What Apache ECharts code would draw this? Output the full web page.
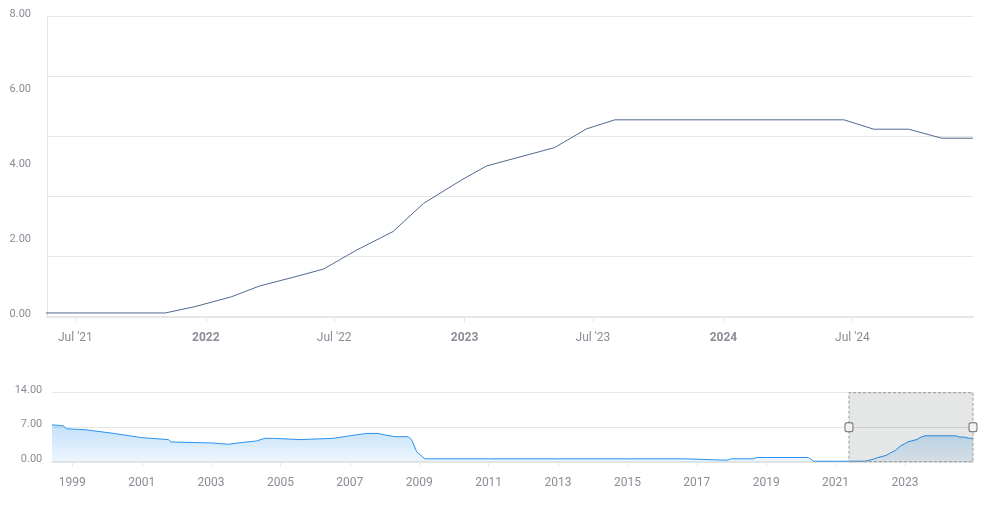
<!DOCTYPE html>
<html><head><meta charset="utf-8">
<script src="https://cdn.jsdelivr.net/npm/echarts@6/dist/echarts.min.js"></script>
<style>html,body{margin:0;padding:0;background:#fff}#c{width:995px;height:507px}</style>
</head><body><div id="c"></div>
<script>
// ---- data ----
const dates = ['1998-06-01','1998-09-27','1998-11-02','1999-05-15','2000-02-20','2001-01-01','2001-10-08','2001-11-06',
  '2003-01-08','2003-07-01','2003-11-01','2004-04-20','2004-07-20','2004-10-20','2005-07-25','2006-07-10',
  '2007-01-05','2007-06-28','2007-10-25','2007-12-20','2008-04-20','2008-09-08','2008-10-15','2008-12-05',
  '2009-03-01','2016-09-05','2016-09-25','2017-11-15','2017-12-25','2018-08-20','2018-09-25','2020-03-20',
  '2020-05-15','2021-11-05','2021-12-17','2022-02-06','2022-03-18','2022-05-04','2022-06-16','2022-08-02',
  '2022-09-22','2022-11-04','2022-12-28','2023-02-01','2023-05-08','2023-06-22','2023-08-01','2024-06-19',
  '2024-07-31','2024-09-18','2024-11-04','2024-12-18'];
const rates = [7.48,7.28,6.68,6.48,5.8,4.88,4.48,4.0,
  3.8,3.54,3.85,4.2,4.74,4.74,4.48,4.74,
  5.28,5.74,5.74,5.48,5.08,5.08,4.34,2.0,
  0.58,0.58,0.3,0.3,0.58,0.58,0.85,0.85,
  0.1,0.1,0.27,0.53,0.82,1.05,1.27,1.78,
  2.27,3.02,3.65,4.02,4.51,5.01,5.25,5.25,
  5.0,5.0,4.76,4.76];
const mainTickDates = ['2021-07-01','2022-01-01','2022-07-01','2023-01-01','2023-07-01','2024-01-01','2024-07-01'];
const navTickYears = [1999,2001,2003,2005,2007,2009,2011,2013,2015,2017,2019,2021,2023];
const mainYLabelValues = [0,2,4,6,8];
const navYLabelValues = [0,7,14];
const viewStart = '2021-05-22';
const viewEnd = '2024-12-18';
const navStart = '1998-06-04';

function ts(s){const p=s.split('-').map(Number);return new Date(p[0],p[1]-1,p[2]).getTime();}
const seriesData = dates.map((d,i)=>[ts(d), rates[i]]);
const FONT = 'Roboto';
const LBL = '#898d95';
const GRID = '#e6e6e6';

const chart = echarts.init(document.getElementById('c'), null, {renderer:'canvas'});
chart.setOption({
  animation:false,
  backgroundColor:'#ffffff',
  textStyle:{fontFamily:FONT},
  grid:[
    {left:47, right:22, top:16.7, bottom:190.3, containLabel:false},
    {left:52.3, right:22, top:392.7, bottom:45.3, containLabel:false}
  ],
  xAxis:[
    {type:'value', gridIndex:0, min:ts(viewStart), max:ts(viewEnd),
     axisLine:{show:true, lineStyle:{color:GRID, width:2}},
     axisTick:{show:true, customValues:mainTickDates.map(ts), length:6, lineStyle:{color:GRID}},
     splitLine:{show:false},
     axisLabel:{customValues:mainTickDates.map(ts), color:LBL, fontSize:12, margin:15, fontFamily:FONT,
       formatter:function(v){const d=new Date(v); if(d.getMonth()===0) return '{b|'+d.getFullYear()+'}';
         return "Jul '"+String(d.getFullYear()).slice(2);},
       rich:{b:{fontWeight:'bold', color:LBL, fontSize:12, fontFamily:FONT}}}
    },
    {type:'value', gridIndex:1, min:ts(navStart), max:ts(viewEnd),
     axisLine:{show:true, lineStyle:{color:GRID, width:2}},
     axisTick:{show:true, customValues:navTickYears.map(y=>ts(y+'-01-01')), length:5, lineStyle:{color:GRID}},
     splitLine:{show:false},
     axisLabel:{customValues:navTickYears.map(y=>ts(y+'-01-01')), color:LBL, fontSize:12, margin:15, fontFamily:FONT,
       formatter:function(v){return String(new Date(v).getFullYear());}}
    }
  ],
  yAxis:[
    {type:'value', gridIndex:0, min:0, max:8, interval:2,
     axisLine:{show:true, lineStyle:{color:GRID, width:1}}, axisTick:{show:false},
     splitLine:{show:false},
     axisLabel:{customValues:mainYLabelValues, color:LBL, fontSize:11, margin:16, verticalAlign:'bottom', lineHeight:5, fontFamily:FONT,
       formatter:function(v){return v.toFixed(2);}}
    },
    {type:'value', gridIndex:0, min:0, max:8, interval:1.6,
     axisLine:{show:false}, axisTick:{show:false}, axisLabel:{show:false},
     splitLine:{show:true, lineStyle:{color:GRID, width:1}}
    },
    {type:'value', gridIndex:1, min:0, max:14, interval:7,
     axisLine:{show:false}, axisTick:{show:false},
     splitLine:{show:true, lineStyle:{color:GRID, width:1}},
     axisLabel:{customValues:navYLabelValues, color:LBL, fontSize:11, margin:10, verticalAlign:'bottom', lineHeight:5, fontFamily:FONT,
       formatter:function(v){return v.toFixed(2);}}
    }
  ],
  series:[
    {type:'line', xAxisIndex:0, yAxisIndex:0, data:seriesData, symbol:'none', clip:true,
     lineStyle:{color:'#4f6a8f', width:1}, z:3},
    {type:'line', xAxisIndex:1, yAxisIndex:2, data:seriesData, symbol:'none', clip:true, z:2,
     lineStyle:{color:'#2a93ef', width:1},
     areaStyle:{color:new echarts.graphic.LinearGradient(0,0,0,1,[
       {offset:0, color:'rgba(42,147,239,0.40)'},{offset:1, color:'rgba(42,147,239,0.12)'}])},
     markArea:{silent:true, z:4,
       itemStyle:{color:'rgba(0,18,18,0.10)', borderColor:'#9a9a9a', borderWidth:1, borderType:[3,2]},
       data:[[{xAxis:ts(viewStart)},{xAxis:ts(viewEnd)}]]},
     markPoint:{silent:true, z:6, symbol:'roundRect', symbolSize:[8,9],
       itemStyle:{color:'#f2f2f2', borderColor:'#666666', borderWidth:1},
       label:{show:false},
       data:[{coord:[ts(viewStart),7]},{coord:[ts(viewEnd),7]}]}
    }
  ]
});
</script></body></html>
